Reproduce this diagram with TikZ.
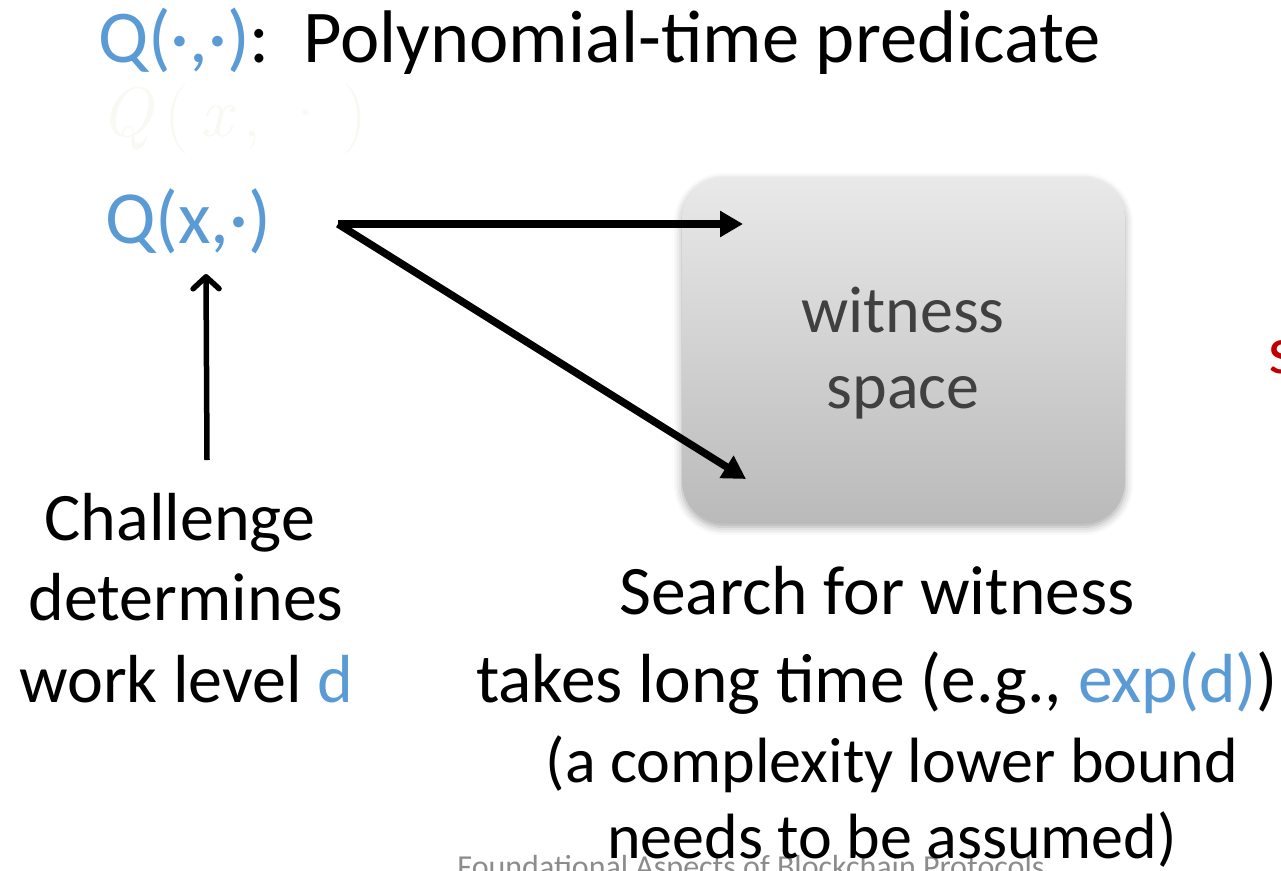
\documentclass[tikz,border=0pt]{standalone}
\usepackage{fontspec}
\setmainfont{Carlito}
\newfontfamily\lmfont{Latin Modern Roman}
\usetikzlibrary{arrows.meta,shadows.blur}
\definecolor{accentblue}{HTML}{5B9BD5}
\definecolor{boxtop}{HTML}{E9E9E9}
\definecolor{boxbot}{HTML}{BABABA}
\definecolor{boxtext}{HTML}{404040}
\definecolor{alertred}{HTML}{C00000}
\definecolor{footgray}{HTML}{8C8C8C}
\definecolor{ghost}{RGB}{247,250,242}
\begin{document}
\begin{tikzpicture}[x=1pt,y=-1pt,
  big/.style={anchor=base,inner sep=0pt,font=\fontsize{68}{82}\selectfont},
  bigwest/.style={big,anchor=base west},
  small/.style={anchor=base,inner sep=0pt,font=\fontsize{64}{76}\selectfont},
  inbox/.style={anchor=base,inner sep=0pt,text=boxtext,font=\fontsize{66}{68}\selectfont},
  fat arrow/.style={line width=7.5pt,-{Triangle[length=23pt,width=25pt]}},
  thin arrow/.style={line width=5.5pt,-{Straight Barb[length=12pt,width=26pt,round]}},
  spacebox/.style={draw=none,rounded corners=42pt,minimum width=443pt,minimum height=346pt,
    top color=boxtop,bottom color=boxbot,
    blur shadow={shadow xshift=0pt,shadow yshift=-4pt,shadow blur radius=8pt,shadow opacity=35}}]
\useasboundingbox (0,0) rectangle (1281,870);
\clip (0,0) rectangle (1281,870);

% heading
\node[bigwest,font=\fontsize{74.5}{88}\selectfont] (title) at (98,62)
  {\textcolor{accentblue}{Q(·,·)}:\ \ Polynomial-time predicate};
% faint formula behind
\node[anchor=base west,inner sep=0pt,text=ghost,font=\lmfont\fontsize{70}{70}\selectfont] (ghost) at (100,136)
  {\itshape Q\,\upshape(\,\itshape x\upshape\,,\;·\,)};

% the instance
\node[bigwest,text=accentblue,font=\fontsize{75}{88}\selectfont] (qx) at (105,243) {Q(x,·)};
\coordinate (fork) at (338,224);

% witness space
\node[spacebox] (box) at (903.5,350) {};
\node[inbox] (w1) at (903,332) {witness};
\node[inbox] (w2) at (903,408) {space};
\coordinate (hit1) at (743,224);
\coordinate (hit2) at (746,479);
\draw[fat arrow] (fork) -- (hit1);
\draw[fat arrow] (fork) -- (hit2);

% challenge
\node[big] (c1) at (180,540) {Challenge};
\node[big] (c2) at (186,620) {determines};
\node[big] (c3) at (186,702) {work level \textcolor{accentblue}{d}};
\coordinate (up0) at (207,460);
\coordinate (up1) at (206,274);
\draw[thin arrow] (up0) -- (up1);

% search cost
\node[big,font=\fontsize{69.5}{82}\selectfont] (s1) at (877,614) {Search for witness};
\node[big,font=\fontsize{69.5}{82}\selectfont] (s2) at (877,702) {takes long time (e.g., \textcolor{accentblue}{exp(d)})};
\node[anchor=north,inner sep=0pt,text=footgray,font=\fontsize{32}{32}\selectfont] (foot) at (751,855)
  {Foundational Aspects of Blockchain Protocols};
\node[small] (s3) at (892,782) {(a complexity lower bound};
\node[small] (s4) at (892,858) {needs to be assumed)};

% cut-off word at the edge
\node[bigwest,text=alertred] (edge) at (1268,373) {s};
\end{tikzpicture}
\end{document}
